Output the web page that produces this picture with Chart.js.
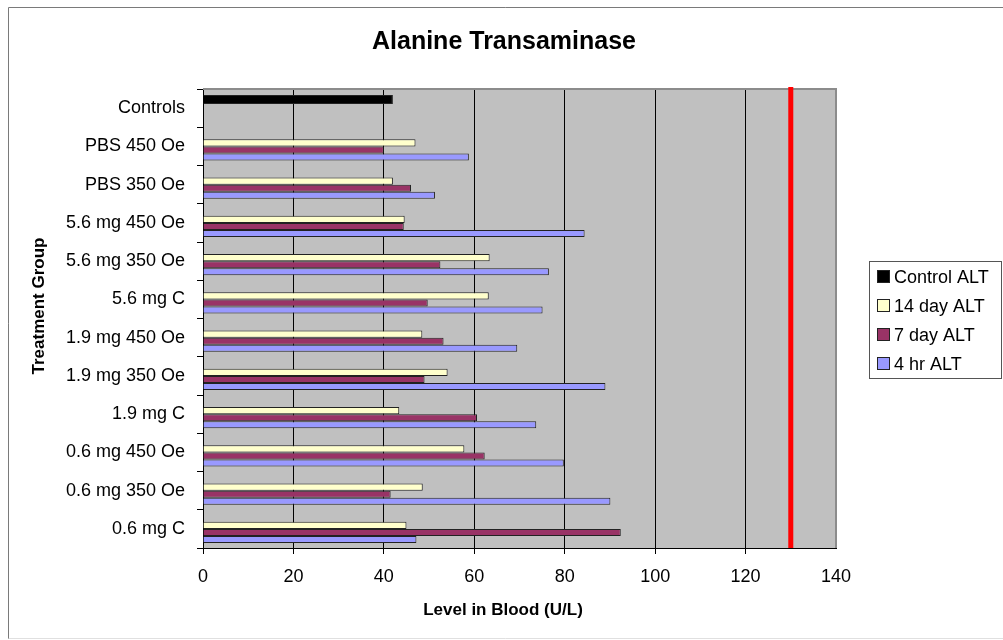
<!DOCTYPE html>
<html>
<head>
<meta charset="utf-8">
<title>Alanine Transaminase</title>
<script src="https://cdn.jsdelivr.net/npm/chart.js@4/dist/chart.umd.min.js"></script>
<style>
  body { margin: 0; background: #fff; }
  #chart { display: block; }
</style>
</head>
<body>
<canvas id="chart" width="1003" height="640"></canvas>
<script>
// ------------------------- Data -------------------------
const categories = [
  'Controls', 'PBS 450 Oe', 'PBS 350 Oe', '5.6 mg 450 Oe', '5.6 mg 350 Oe', '5.6 mg C',
  '1.9 mg 450 Oe', '1.9 mg 350 Oe', '1.9 mg C', '0.6 mg 450 Oe', '0.6 mg 350 Oe', '0.6 mg C'
];
const controlALT = [42, null, null, null, null, null, null, null, null, null, null, null];
const day14ALT = [null, 47, 42, 44.6, 63.4, 63.2, 48.5, 54.1, 43.4, 57.8, 48.6, 45];
const day7ALT = [null, 40, 46, 44.4, 52.5, 49.7, 53.2, 49, 60.6, 62.3, 41.5, 92.4];
const hr4ALT = [null, 58.8, 51.3, 84.4, 76.5, 75.1, 69.5, 89, 73.7, 79.8, 90.1, 47.2];
const xMin = 0;
const xMax = 140;
const xStep = 20;
const upperLimit = 130;

const FONT = "'Liberation Sans', Arial, sans-serif";

// ------------------------- Plugins -------------------------
// gray plot area, gray top/right frame, outer frame
const backdrop = {
  id: 'backdrop',
  beforeDraw(chart) {
    const { ctx, chartArea: a } = chart;
    ctx.save();
    ctx.fillStyle = '#fff';
    ctx.fillRect(0, 0, chart.width, chart.height);
    ctx.strokeStyle = '#7a7a7a';
    ctx.lineWidth = 1;
    ctx.beginPath();
    ctx.moveTo(8.5, 639);
    ctx.lineTo(8.5, 7.5);
    ctx.lineTo(chart.width, 7.5);
    ctx.stroke();
    ctx.strokeStyle = '#e0e0e0';
    ctx.beginPath();
    ctx.moveTo(8.5, 638.5);
    ctx.lineTo(chart.width, 638.5);
    ctx.stroke();
    ctx.fillStyle = '#c0c0c0';
    ctx.fillRect(a.left, a.top, a.right - a.left, a.bottom - a.top);
    ctx.restore();
  },
  beforeDatasetsDraw(chart) {
    const { ctx, chartArea: a } = chart;
    ctx.save();
    ctx.strokeStyle = '#8c8c8c';
    ctx.lineWidth = 2;
    ctx.beginPath();
    ctx.moveTo(a.left, a.top);
    ctx.lineTo(a.right, a.top);
    ctx.lineTo(a.right, a.bottom);
    ctx.stroke();
    ctx.restore();
  }
};

// red reference line + titles + boxed legend
const overlay = {
  id: 'overlay',
  afterDraw(chart) {
    const { ctx, chartArea: a } = chart;
    const x = chart.scales.x.getPixelForValue(upperLimit);
    ctx.save();
    ctx.fillStyle = '#ff0000';
    ctx.fillRect(x - 2.5, a.top - 2, 5, a.bottom - a.top + 2);

    ctx.fillStyle = '#000';
    ctx.textAlign = 'center';
    ctx.textBaseline = 'alphabetic';
    ctx.font = 'bold 25px ' + FONT;
    ctx.fillText('Alanine Transaminase', 504, 49);
    ctx.font = 'bold 17px ' + FONT;
    ctx.fillText('Level in Blood (U/L)', 503, 615);

    ctx.save();
    ctx.translate(44, 306);
    ctx.rotate(-Math.PI / 2);
    ctx.fillText('Treatment Group', 0, 0);
    ctx.restore();

    // legend
    const lx = 869.5, ly = 261.5, lw = 132, lh = 117;
    ctx.fillStyle = '#fff';
    ctx.fillRect(lx, ly, lw, lh);
    ctx.strokeStyle = '#555';
    ctx.lineWidth = 1;
    ctx.strokeRect(lx, ly, lw, lh);
    ctx.font = '18px ' + FONT;
    ctx.textAlign = 'left';
    ctx.textBaseline = 'middle';
    chart.data.datasets.forEach((ds, i) => {
      const cy = 277 + i * 29;
      ctx.fillStyle = ds.backgroundColor;
      ctx.fillRect(877.5, cy - 6.5, 12, 12);
      ctx.strokeStyle = '#222';
      ctx.strokeRect(877.5, cy - 6.5, 12, 12);
      ctx.fillStyle = '#000';
      ctx.fillText(ds.label, 894, cy + 1);
    });
    ctx.restore();
  }
};

// ------------------------- Chart.js Setup -------------------------
const barBorder = '#222';
const ctx = document.getElementById('chart').getContext('2d');
const chart = new Chart(ctx, {
  type: 'bar',
  data: {
    labels: categories,
    datasets: [
      { label: 'Control ALT', data: controlALT, backgroundColor: '#000000', borderColor: barBorder, borderWidth: 1,
        categoryPercentage: 0.6, barPercentage: 1.58 },
      { label: '14 day ALT', data: day14ALT, backgroundColor: '#ffffcc', borderColor: barBorder, borderWidth: 1 },
      { label: '7 day ALT', data: day7ALT, backgroundColor: '#993366', borderColor: barBorder, borderWidth: 1 },
      { label: '4 hr ALT', data: hr4ALT, backgroundColor: '#9999ff', borderColor: barBorder, borderWidth: 1 }
    ]
  },
  options: {
    indexAxis: 'y',
    responsive: false,
    animation: false,
    events: [],
    categoryPercentage: 0.745,
    barPercentage: 1.0,
    layout: { padding: { top: 89, right: 167, left: 0, bottom: 0 } },
    plugins: {
      legend: { display: false },
      tooltip: { enabled: false }
    },
    scales: {
      x: {
        min: xMin,
        max: xMax,
        afterFit: (scale) => { scale.height = 92; },
        ticks: { stepSize: xStep, color: '#000', padding: 12, font: { family: FONT, size: 18 } },
        grid: {
          color: (c) => (c.tick && c.tick.value === xMax ? 'rgba(0,0,0,0)' : '#000'),
          lineWidth: 1,
          tickLength: 6
        },
        border: { color: '#000', width: 1 }
      },
      y: {
        afterFit: (scale) => { scale.width = 203; },
        ticks: { color: '#000', padding: 12, font: { family: FONT, size: 18 } },
        grid: { drawOnChartArea: false, offset: true, color: '#000', tickLength: 6 },
        border: { color: '#000', width: 1 }
      }
    }
  },
  plugins: [backdrop, overlay]
});
</script>
</body>
</html>
